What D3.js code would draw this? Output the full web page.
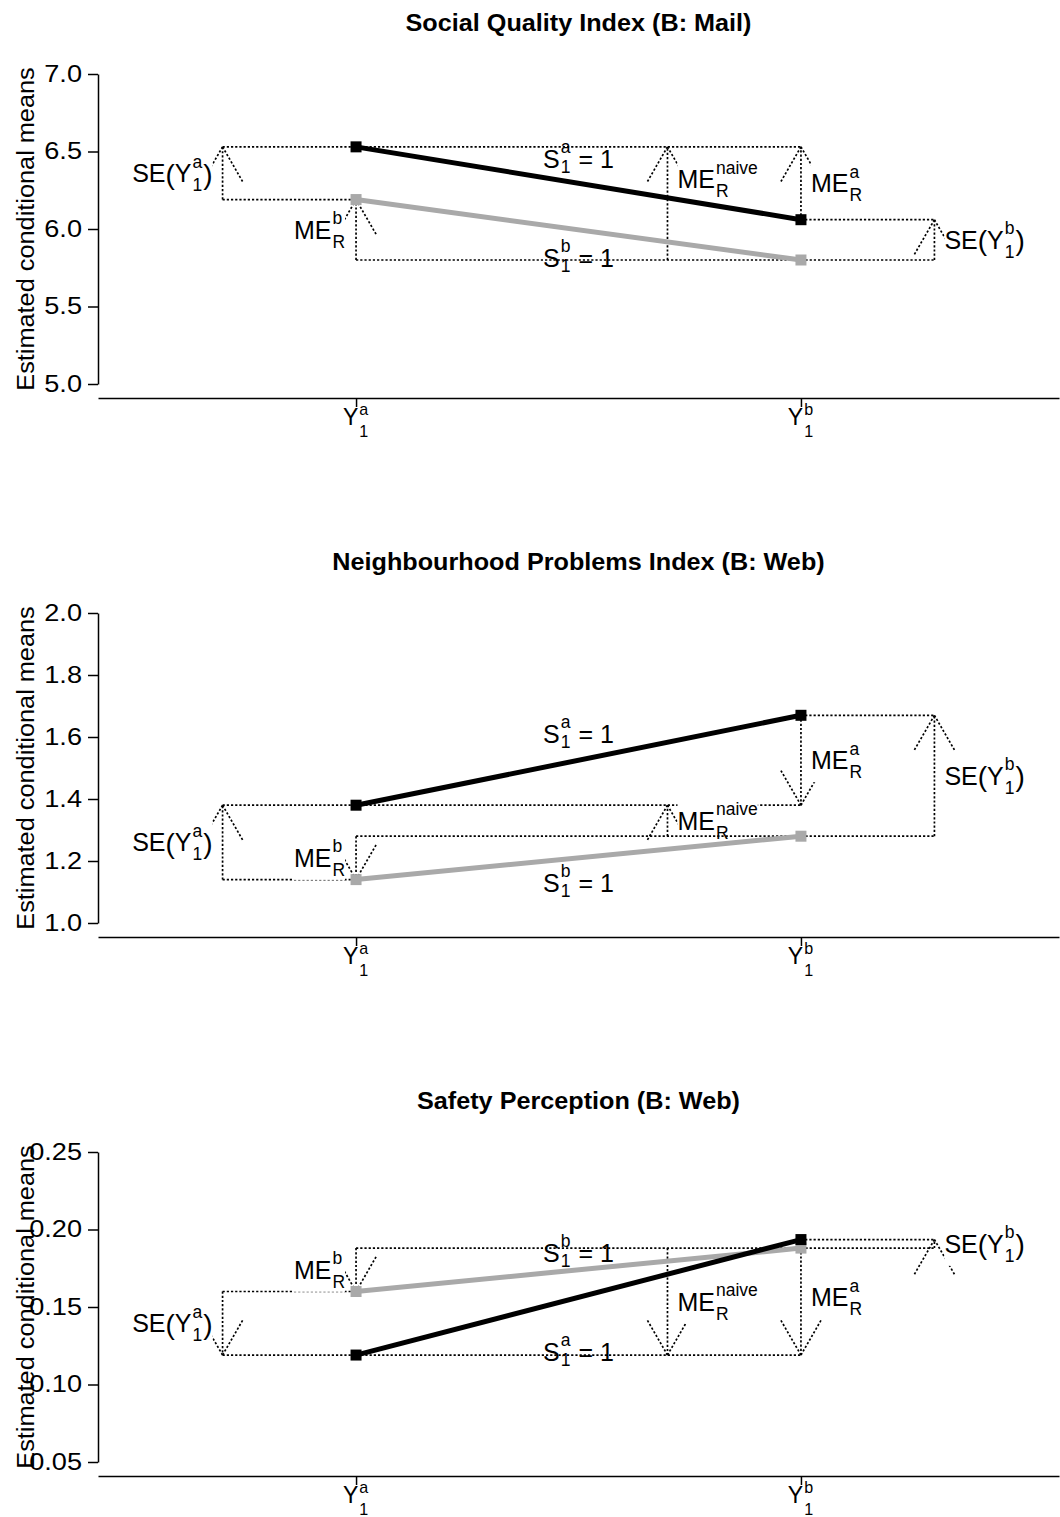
<!DOCTYPE html>
<html>
<head>
<meta charset="utf-8">
<script src="https://cdn.jsdelivr.net/npm/d3@7"></script>
<style>
body { margin: 0; background: #fff; }
svg text { font-family: "Liberation Sans", Arial, sans-serif; fill: #000; }
</style>
</head>
<body>
<svg id="chart" width="1060" height="1517"></svg>
<script>
// ---- data ----
const titles = ["Social Quality Index (B: Mail)", "Neighbourhood Problems Index (B: Web)", "Safety Perception (B: Web)"];
const categories = [1, 2];                       // Y_1^a, Y_1^b
const catSup = ["a", "b"];
const seriesA = [[6.53, 6.06], [1.38, 1.67], [0.119, 0.1935]];   // black
const seriesB = [[6.19, 5.80], [1.14, 1.28], [0.160, 0.188]];    // grey
const yTicks = [[5.0, 5.5, 6.0, 6.5, 7.0], [1.0, 1.2, 1.4, 1.6, 1.8, 2.0], [0.05, 0.10, 0.15, 0.20, 0.25]];
const tickFormats = [".1f", ".1f", ".2f"];
const arrowX = [0.7, 1, 1.7, 2, 2.3];           // SE(Y1a), ME_R^b, ME_R^naive, ME_R^a, SE(Y1b)
const naiveLabelY = [6.32, null, null];          // null = midpoint of the arrow
const sLabelA = [6.45, 1.61, 0.121];
const sLabelB = [5.81, 1.13, 0.185];

const svg = d3.select("#chart");
const panelStep = 539;
const fs = 23, fsLab = 25;
const x = d3.scaleLinear().domain([0.42, 2.58]).range([98, 1059]);

// widen glyphs a little, as in the original rendering
function stretch(sel, k) {
    sel.each(function () {
        const n = this.getComputedTextLength();
        d3.select(this).attr("textLength", n * k).attr("lengthAdjust", "spacingAndGlyphs");
    });
}

function mathText(parent, runs, size, supShift, subShift, bg) {
    const g = parent.append("g");
    let cx = 0;
    const base = size * 0.36;
    runs.forEach(r => {
        if (typeof r === "string") {
            const t = g.append("text").attr("x", cx).attr("y", base).attr("font-size", size).text(r);
            cx += t.node().getComputedTextLength();
        } else if (r.paren) {
            const t = g.append("text").attr("x", cx).attr("y", base + size * 0.06).attr("font-size", size * 1.12).text(r.paren);
            cx += t.node().getComputedTextLength();
        } else {
            const s = size * 0.7;
            const a = g.append("text").attr("x", cx + 1).attr("y", base - size * supShift).attr("font-size", s).text(r.sup);
            const b = g.append("text").attr("x", cx + 1).attr("y", base + size * subShift).attr("font-size", s).text(r.sub);
            cx += Math.max(a.node().getComputedTextLength(), b.node().getComputedTextLength()) + 2;
        }
    });
    if (bg) {
        const bb = g.node().getBBox();
        g.insert("rect", ":first-child")
            .attr("x", bb.x).attr("y", bb.y).attr("width", bb.width).attr("height", bb.height)
            .attr("fill", "#fff");
    }
    return {g, width: cx};
}

function dotted(g, x1, y1, x2, y2) {
    g.append("line")
        .attr("x1", x1).attr("y1", y1).attr("x2", x2).attr("y2", y2)
        .attr("stroke", "#000").attr("stroke-width", 1.7)
        .attr("stroke-dasharray", "2.2,2");
}

titles.forEach((title, i) => {
    const top = i * panelStep;
    const ticks = yTicks[i];
    const y = d3.scaleLinear().domain([ticks[0], ticks[ticks.length - 1]]).range([top + 384, top + 74]);
    const A = seriesA[i], B = seriesB[i];
    const g = svg.append("g");
    const xMid = (x.range()[0] + x.range()[1]) / 2;
    const axisY = y(ticks[0]) + 14;

    g.append("text")
        .attr("x", xMid).attr("y", top + 22)
        .attr("text-anchor", "middle").attr("dominant-baseline", "central")
        .attr("font-weight", "bold").attr("font-size", 24)
        .text(title)
        .call(stretch, 1.05);

    // y axis
    const ya = g.append("g")
        .attr("transform", `translate(${x.range()[0]},0)`)
        .call(d3.axisLeft(y).tickValues(ticks).tickFormat(d3.format(tickFormats[i]))
            .tickSize(10).tickSizeOuter(0).tickPadding(6));
    ya.selectAll("text").attr("font-size", fs).attr("font-family", null).call(stretch, 1.18);
    ya.selectAll("path, line").attr("stroke", "#000").attr("stroke-width", 1.5);

    g.append("text")
        .attr("transform", `translate(34,${(y(ticks[0]) + y(ticks[ticks.length - 1])) / 2}) rotate(-90)`)
        .attr("text-anchor", "middle").attr("font-size", fs)
        .text("Estimated conditional means")
        .call(stretch, 1.1);

    // x axis
    const xa = g.append("g")
        .attr("transform", `translate(0,${axisY})`)
        .call(d3.axisBottom(x).tickValues(categories).tickFormat("").tickSize(9).tickSizeOuter(0));
    xa.selectAll("path, line").attr("stroke", "#000").attr("stroke-width", 1.5);
    categories.forEach((c, j) => {
        const m = mathText(g, ["Y", {sup: catSup[j], sub: "1"}], fs, 0.45, 0.52, false);
        m.g.attr("transform", `translate(${x(c) - m.width / 2},${axisY + 27 - fs * 0.36})`);
    });

    // annotation arrows: head / tail values
    const heads = [A[0], B[0], A[0], A[0], A[1]];
    const tails = [B[0], B[1], B[1], A[1], B[1]];
    const labels = [
        ["SE", {paren: "("}, "Y", {sup: "a", sub: "1"}, {paren: ")"}],
        ["ME", {sup: "b", sub: "R"}],
        ["ME", {sup: "naive", sub: "R"}],
        ["ME", {sup: "a", sub: "R"}],
        ["SE", {paren: "("}, "Y", {sup: "b", sub: "1"}, {paren: ")"}]
    ];
    const leftSide = [true, true, false, false, false];

    const ann = g.append("g");
    function guide(v, from, to) { dotted(ann, x(from), y(v), x(to), y(v)); }
    function arrow(k) {
        const ax = x(arrowX[k]);
        const yh = y(heads[k]), yt = y(tails[k]);
        dotted(ann, ax, yt, ax, yh);
        const dir = yh < yt ? 1 : -1;
        const L = 42, ang = Math.PI / 6;
        dotted(ann, ax, yh, ax - L * Math.sin(ang), yh + dir * L * Math.cos(ang));
        dotted(ann, ax, yh, ax + L * Math.sin(ang), yh + dir * L * Math.cos(ang));
        let ly = (heads[k] + tails[k]) / 2;
        if (k === 2 && naiveLabelY[i] != null) ly = naiveLabelY[i];
        const m = mathText(ann, labels[k], fsLab, 0.58, 0.36, true);
        const lx = leftSide[k] ? ax - 10 - m.width : ax + 10;
        m.g.attr("transform", `translate(${lx},${y(ly)})`);
    }

    guide(A[0], arrowX[0], categories[1]);
    guide(B[0], arrowX[0], categories[0]);
    arrow(0);
    arrow(1);
    arrow(2);
    arrow(3);
    guide(B[1], categories[0], arrowX[4]);
    guide(A[1], categories[1], arrowX[4]);
    arrow(4);

    // slope labels
    const sa = mathText(ann, ["S", {sup: "a", sub: "1"}, "\u00a0=\u00a01"], fsLab, 0.6, 0.2, false);
    sa.g.attr("transform", `translate(${x(1.5) - sa.width / 2},${y(sLabelA[i])})`);
    const sb = mathText(ann, ["S", {sup: "b", sub: "1"}, "\u00a0=\u00a01"], fsLab, 0.6, 0.2, false);
    sb.g.attr("transform", `translate(${x(1.5) - sb.width / 2},${y(sLabelB[i])})`);

    // data lines and points
    const line = d3.line().x((d, j) => x(categories[j])).y(d => y(d));
    [[B, "#a9a9a9"], [A, "#000"]].forEach(([vals, col]) => {
        g.append("path").attr("d", line(vals)).attr("fill", "none")
            .attr("stroke", col).attr("stroke-width", 5);
        g.selectAll(null).data(vals).join("rect")
            .attr("x", (d, j) => x(categories[j]) - 5.5).attr("y", d => y(d) - 5.5)
            .attr("width", 11).attr("height", 11).attr("fill", col);
    });
});
</script>
</body>
</html>
